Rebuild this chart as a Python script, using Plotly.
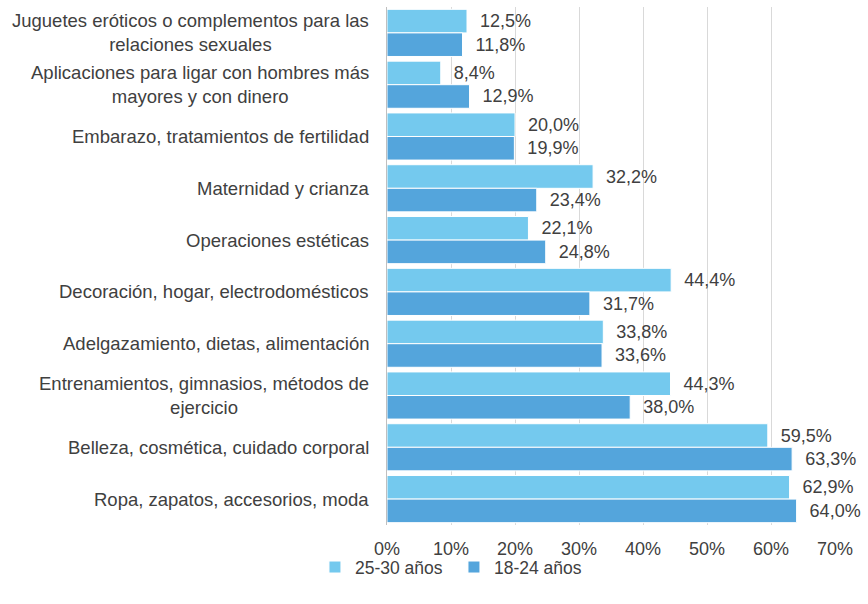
import plotly.graph_objects as go

# --------------------------------------------------
# DATA
# --------------------------------------------------

categories = [
    "Juguetes eróticos o complementos para las<br>relaciones sexuales",
    "Aplicaciones para ligar con hombres más<br>mayores y con dinero",
    "Embarazo, tratamientos de fertilidad",
    "Maternidad y crianza",
    "Operaciones estéticas",
    "Decoración, hogar, electrodomésticos",
    "Adelgazamiento, dietas, alimentación",
    "Entrenamientos, gimnasios, métodos de<br>ejercicio",
    "Belleza, cosmética, cuidado corporal",
    "Ropa, zapatos, accesorios, moda",
]

age_25_30 = [12.5, 8.4, 20.0, 32.2, 22.1, 44.4, 33.8, 44.3, 59.5, 62.9]
age_18_24 = [11.8, 12.9, 19.9, 23.4, 24.8, 31.7, 33.6, 38.0, 63.3, 64.0]

x_ticks = [0, 10, 20, 30, 40, 50, 60, 70]
x_tick_labels = [f"{v}%" for v in x_ticks]

FONT = "Liberation Sans, Arial, sans-serif"
TEXT = "#404040"

# --------------------------------------------------
# FIGURE
# --------------------------------------------------

fig = go.Figure()

for name, values, color in [
    ("25-30 años", age_25_30, "#74C9EE"),
    ("18-24 años", age_18_24, "#54A5DC"),
]:
    fig.add_trace(
        go.Bar(
            y=categories,
            x=values,
            name=name,
            orientation="h",
            marker=dict(color=color, line=dict(color="white", width=1)),
            texttemplate="\u00a0\u00a0%{x:.1f}%",
            textposition="outside",
            constraintext="none",
            textfont=dict(size=18, color=TEXT, family=FONT),
            cliponaxis=False,
        )
    )

# category labels as centred multi-line annotations
for cat in categories:
    fig.add_annotation(
        x=0,
        xref="paper",
        y=cat,
        yref="y",
        text=cat,
        showarrow=False,
        xanchor="right",
        align="center",
        xshift=-16,
        font=dict(size=18.5, color=TEXT, family=FONT),
    )

fig.update_layout(
    width=868,
    height=604,
    margin=dict(l=387, r=33, t=7, b=79, autoexpand=False),
    barmode="group",
    bargap=0.09,
    bargroupgap=0,
    separators=",.",
    plot_bgcolor="white",
    paper_bgcolor="white",
    font=dict(family=FONT, size=18, color=TEXT),
    showlegend=True,
    legend=dict(
        orientation="h",
        xref="container",
        yref="container",
        x=0.523,
        y=0.061,
        xanchor="center",
        yanchor="middle",
        bgcolor="rgba(0,0,0,0)",
        font=dict(size=17.5, color=TEXT),
        itemwidth=30,
        entrywidth=94,
    ),
)

fig.update_xaxes(
    range=[0, 70],
    tickvals=x_ticks,
    ticktext=x_tick_labels,
    showgrid=True,
    gridcolor="#D9D9D9",
    gridwidth=1,
    zeroline=False,
    ticks="",
    ticklabelstandoff=11,
    tickfont=dict(size=18, color=TEXT),
)

fig.update_yaxes(
    autorange="reversed",
    showticklabels=False,
    showline=True,
    linecolor="#BFBFBF",
    linewidth=1,
    ticks="",
)

fig.write_html(
    "out.html",
    config={"displayModeBar": False},
    post_script="document.body.style.margin='0';",
)
